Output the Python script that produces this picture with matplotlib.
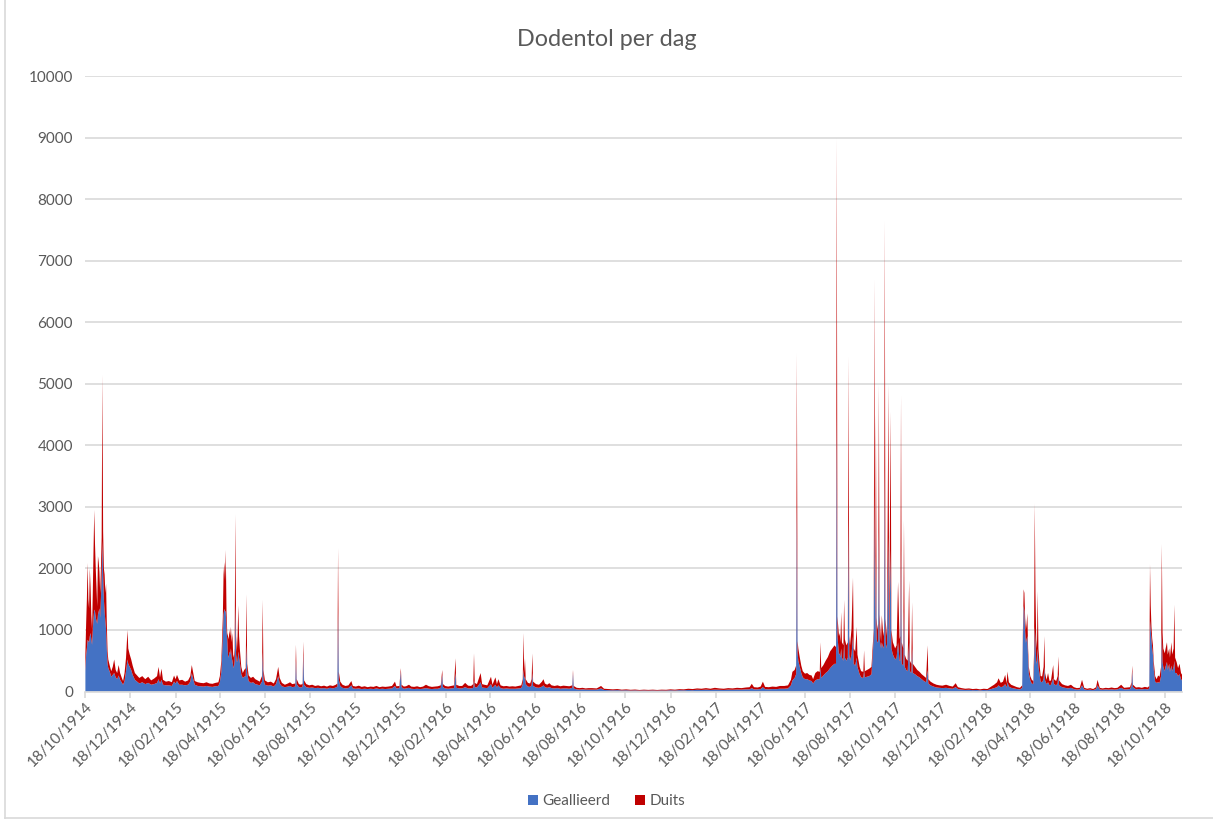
import matplotlib
matplotlib.use("Agg")
import matplotlib.pyplot as plt
import numpy as np
import pandas as pd
from matplotlib.patches import Patch
from matplotlib.lines import Line2D

# ---------------- data ----------------
datums = [
    # 1914
    "1914-10-18","1914-10-19","1914-10-20","1914-10-21","1914-10-22","1914-10-23","1914-10-24","1914-10-25","1914-10-26","1914-10-27","1914-10-28","1914-10-29","1914-10-30","1914-10-31",
    "1914-11-01","1914-11-02","1914-11-03","1914-11-04","1914-11-05","1914-11-06","1914-11-07","1914-11-08","1914-11-09","1914-11-10","1914-11-11","1914-11-12","1914-11-13","1914-11-14","1914-11-15","1914-11-16","1914-11-17","1914-11-18","1914-11-20","1914-11-22","1914-11-24","1914-11-26","1914-11-28","1914-11-30",
    "1914-12-02","1914-12-04","1914-12-06","1914-12-08","1914-12-10","1914-12-12","1914-12-14","1914-12-15","1914-12-17","1914-12-19","1914-12-21","1914-12-24","1914-12-27","1914-12-30",
    # 1915
    "1915-01-03","1915-01-07","1915-01-11","1915-01-15","1915-01-19","1915-01-23","1915-01-25","1915-01-27","1915-01-29","1915-01-31",
    "1915-02-04","1915-02-08","1915-02-12","1915-02-15","1915-02-17","1915-02-19","1915-02-22","1915-02-26",
    "1915-03-02","1915-03-06","1915-03-09","1915-03-11","1915-03-13","1915-03-15","1915-03-19","1915-03-23","1915-03-27","1915-03-31",
    "1915-04-04","1915-04-08","1915-04-12","1915-04-16","1915-04-18","1915-04-20","1915-04-22","1915-04-23","1915-04-24","1915-04-25","1915-04-26","1915-04-27","1915-04-28","1915-04-29","1915-04-30",
    "1915-05-01","1915-05-02","1915-05-03","1915-05-04","1915-05-05","1915-05-06","1915-05-07","1915-05-08","1915-05-09","1915-05-10","1915-05-11","1915-05-12","1915-05-13","1915-05-14","1915-05-15","1915-05-17","1915-05-19","1915-05-21","1915-05-23","1915-05-24","1915-05-25","1915-05-27","1915-05-30",
    "1915-06-02","1915-06-05","1915-06-08","1915-06-11","1915-06-14","1915-06-15","1915-06-16","1915-06-18","1915-06-22","1915-06-26","1915-06-30",
    "1915-07-03","1915-07-06","1915-07-08","1915-07-11","1915-07-15","1915-07-19","1915-07-22","1915-07-25","1915-07-29","1915-07-30","1915-07-31",
    "1915-08-03","1915-08-06","1915-08-08","1915-08-09","1915-08-10","1915-08-13","1915-08-17","1915-08-21","1915-08-25","1915-08-29",
    "1915-09-02","1915-09-06","1915-09-10","1915-09-14","1915-09-18","1915-09-22","1915-09-24","1915-09-25","1915-09-26","1915-09-28",
    "1915-10-01","1915-10-05","1915-10-09","1915-10-13","1915-10-15","1915-10-19","1915-10-23","1915-10-27","1915-10-31",
    "1915-11-04","1915-11-08","1915-11-12","1915-11-16","1915-11-20","1915-11-24","1915-11-28",
    "1915-12-02","1915-12-07","1915-12-11","1915-12-13","1915-12-17","1915-12-19","1915-12-20","1915-12-23","1915-12-26","1915-12-30",
    # 1916
    "1916-01-02","1916-01-06","1916-01-10","1916-01-14","1916-01-18","1916-01-22","1916-01-26","1916-01-30",
    "1916-02-03","1916-02-07","1916-02-11","1916-02-13","1916-02-14","1916-02-17","1916-02-21","1916-02-25","1916-02-29",
    "1916-03-02","1916-03-03","1916-03-07","1916-03-11","1916-03-15","1916-03-19","1916-03-23","1916-03-26","1916-03-27","1916-03-28","1916-03-31",
    "1916-04-05","1916-04-07","1916-04-10","1916-04-14","1916-04-19","1916-04-21","1916-04-25","1916-04-27","1916-04-29",
    "1916-05-02","1916-05-06","1916-05-10","1916-05-14","1916-05-18","1916-05-22","1916-05-26","1916-05-30",
    "1916-06-01","1916-06-02","1916-06-03","1916-06-04","1916-06-05","1916-06-08","1916-06-11","1916-06-13","1916-06-14","1916-06-15","1916-06-19","1916-06-23","1916-06-27","1916-06-29",
    "1916-07-01","1916-07-04","1916-07-07","1916-07-10","1916-07-14","1916-07-18","1916-07-22","1916-07-26","1916-07-30",
    "1916-08-03","1916-08-07","1916-08-08","1916-08-09","1916-08-13","1916-08-17","1916-08-21","1916-08-25","1916-08-29",
    "1916-09-03","1916-09-09","1916-09-15","1916-09-19","1916-09-25",
    "1916-10-01","1916-10-07","1916-10-13","1916-10-19","1916-10-25","1916-10-31",
    "1916-11-06","1916-11-12","1916-11-18","1916-11-24","1916-11-30",
    "1916-12-06","1916-12-12","1916-12-18","1916-12-24","1916-12-30",
    # 1917
    "1917-01-05","1917-01-11","1917-01-17","1917-01-23","1917-01-29",
    "1917-02-04","1917-02-10","1917-02-16","1917-02-22","1917-02-28",
    "1917-03-06","1917-03-12","1917-03-18","1917-03-24","1917-03-30",
    "1917-04-04","1917-04-07","1917-04-10","1917-04-15","1917-04-19","1917-04-22","1917-04-25","1917-04-30",
    "1917-05-05","1917-05-10","1917-05-15","1917-05-21","1917-05-26","1917-05-30",
    "1917-06-01","1917-06-04","1917-06-06","1917-06-07","1917-06-08","1917-06-09","1917-06-11","1917-06-13","1917-06-15","1917-06-18","1917-06-21","1917-06-24","1917-06-27","1917-06-29",
    "1917-07-02","1917-07-05","1917-07-08","1917-07-09","1917-07-10","1917-07-13","1917-07-16","1917-07-19","1917-07-22","1917-07-25","1917-07-28","1917-07-30","1917-07-31",
    "1917-08-01","1917-08-03","1917-08-04","1917-08-05","1917-08-06","1917-08-07","1917-08-09","1917-08-10","1917-08-11","1917-08-13","1917-08-15","1917-08-16","1917-08-17","1917-08-18","1917-08-20","1917-08-22","1917-08-23","1917-08-25","1917-08-27","1917-08-28","1917-08-31",
    "1917-09-02","1917-09-05","1917-09-06","1917-09-07","1917-09-10","1917-09-13","1917-09-16","1917-09-18","1917-09-19","1917-09-20","1917-09-21","1917-09-22","1917-09-23","1917-09-24","1917-09-25","1917-09-26","1917-09-27","1917-09-29","1917-09-30",
    "1917-10-02","1917-10-03","1917-10-04","1917-10-05","1917-10-07","1917-10-09","1917-10-10","1917-10-12","1917-10-13","1917-10-15","1917-10-18","1917-10-20","1917-10-22","1917-10-24","1917-10-25","1917-10-26","1917-10-27","1917-10-29","1917-10-30","1917-10-31",
    "1917-11-02","1917-11-04","1917-11-06","1917-11-07","1917-11-09","1917-11-10","1917-11-11","1917-11-14","1917-11-17","1917-11-20","1917-11-23","1917-11-26","1917-11-29",
    "1917-12-01","1917-12-02","1917-12-05","1917-12-09","1917-12-13","1917-12-17","1917-12-21","1917-12-26","1917-12-31",
    # 1918
    "1918-01-04","1918-01-08","1918-01-11","1918-01-16","1918-01-21","1918-01-26","1918-01-31",
    "1918-02-05","1918-02-10","1918-02-15","1918-02-20","1918-02-25",
    "1918-03-01","1918-03-05","1918-03-07","1918-03-10","1918-03-13","1918-03-16","1918-03-18","1918-03-19","1918-03-21","1918-03-24","1918-03-28",
    "1918-04-01","1918-04-05","1918-04-08","1918-04-09","1918-04-10","1918-04-11","1918-04-12","1918-04-13","1918-04-14","1918-04-15","1918-04-16","1918-04-17","1918-04-19","1918-04-21","1918-04-23","1918-04-24","1918-04-25","1918-04-26","1918-04-27","1918-04-28","1918-04-29","1918-04-30",
    "1918-05-01","1918-05-03","1918-05-05","1918-05-07","1918-05-08","1918-05-09","1918-05-11","1918-05-13","1918-05-15","1918-05-17","1918-05-20","1918-05-21","1918-05-24","1918-05-26","1918-05-27","1918-05-28",
    "1918-06-01","1918-06-05","1918-06-09","1918-06-13","1918-06-17","1918-06-21","1918-06-25","1918-06-28",
    "1918-07-01","1918-07-05","1918-07-09","1918-07-13","1918-07-17","1918-07-19","1918-07-22","1918-07-26","1918-07-30",
    "1918-08-03","1918-08-07","1918-08-11","1918-08-15","1918-08-20","1918-08-24","1918-08-28",
    "1918-09-01","1918-09-03","1918-09-04","1918-09-05","1918-09-09","1918-09-13","1918-09-17","1918-09-21","1918-09-25","1918-09-27","1918-09-28","1918-09-29","1918-09-30",
    "1918-10-01","1918-10-02","1918-10-03","1918-10-05","1918-10-07","1918-10-09","1918-10-11","1918-10-13","1918-10-14","1918-10-15","1918-10-16","1918-10-18","1918-10-19","1918-10-21","1918-10-22","1918-10-24","1918-10-25","1918-10-27","1918-10-28","1918-10-30","1918-10-31",
    "1918-11-01","1918-11-03","1918-11-05","1918-11-07","1918-11-09","1918-11-11",
]

# total height of the stack (Geallieerd + Duits) per date
totaal = [
    620,1100,1500,2090,1500,1350,2000,1700,1250,1000,1600,2300,2950,2400,
    2000,1700,1380,2200,2100,1950,1600,2000,2500,5150,2600,2000,1900,1600,1750,1100,650,520,420,330,400,520,350,300,
    430,300,230,170,300,550,1000,700,600,520,420,300,260,220,
    250,200,240,180,210,250,400,230,370,190,
    160,170,150,260,200,270,180,190,
    160,180,250,430,300,170,150,140,135,150,
    130,125,140,150,250,500,1200,1900,2100,1800,2300,1300,950,900,850,
    1000,900,1050,800,950,600,550,700,2880,900,650,900,1400,900,700,400,300,350,380,1580,450,260,220,
    240,200,180,160,250,1490,350,180,150,160,130,
    200,400,220,140,110,130,150,120,130,760,200,
    120,110,130,810,180,120,100,110,90,100,
    85,95,80,100,90,110,130,2330,320,160,
    110,90,100,170,90,80,95,75,85,
    70,80,75,90,70,80,75,
    80,90,160,85,90,380,110,80,85,110,
    80,75,85,70,80,110,85,75,
    80,85,100,350,120,90,80,90,100,
    540,110,90,90,140,95,90,120,620,140,120,
    300,120,110,100,240,110,230,120,200,
    100,85,90,80,85,80,90,100,
    200,950,300,540,200,140,130,200,620,160,120,110,160,200,
    130,110,135,100,90,100,85,95,90,
    85,100,350,90,60,55,60,50,55,
    55,50,90,45,40,
    35,40,30,35,28,32,
    25,30,26,30,25,
    30,28,35,30,38,
    35,45,40,50,45,
    55,45,60,50,45,
    55,50,60,55,65,
    70,125,70,65,80,160,75,70,
    80,75,90,90,100,190,
    320,350,420,5500,820,700,550,420,330,290,300,270,260,200,
    300,330,320,800,380,430,500,560,650,700,750,720,9000,
    1220,900,950,800,1290,800,750,1490,850,750,800,5450,900,750,1020,1850,700,650,1050,600,400,
    330,320,670,330,350,370,400,800,1020,6700,1000,4500,1200,1000,1100,5000,1250,800,1240,
    900,1000,7650,1180,900,5000,1000,4550,1000,800,700,750,1780,850,900,4810,800,700,2780,600,
    530,500,1800,500,450,1450,450,400,350,320,280,250,220,
    750,200,160,130,110,100,95,110,90,
    80,135,70,55,45,50,40,
    45,35,45,40,80,
    110,150,215,140,160,270,130,325,150,110,90,
    70,60,100,1000,1660,1600,1200,1000,1100,1270,700,400,250,190,170,600,3060,1600,850,700,1630,700,
    515,250,245,400,900,300,190,300,170,180,430,200,170,250,570,180,
    120,100,90,110,70,55,60,190,
    60,45,55,40,70,190,60,50,60,
    55,65,55,60,110,60,65,
    70,150,420,110,65,70,60,75,65,90,2070,1400,1050,
    860,750,500,250,200,260,240,400,2400,960,700,620,690,800,600,700,550,800,600,700,1410,
    550,480,380,450,300,260,
]

geallieerd = [
    330,600,700,840,820,800,900,950,850,760,1000,1200,1330,1300,
    1200,1150,1100,1250,1300,1350,1200,1500,1900,2450,1900,1500,1300,1150,1000,700,450,380,320,240,270,300,230,200,
    260,190,150,110,170,330,520,450,400,350,270,190,160,130,
    150,120,140,110,120,140,200,130,190,110,
    100,100,90,160,130,170,110,110,
    100,110,160,300,200,110,90,85,80,90,
    80,75,85,90,150,320,900,1250,1340,1300,1300,1000,850,600,550,
    650,600,700,550,500,420,380,500,1400,600,480,500,650,550,480,280,220,240,250,750,300,170,140,
    150,120,110,100,160,640,200,110,95,100,80,
    120,250,130,85,70,80,90,70,80,500,120,
    70,65,80,600,110,70,60,65,55,60,
    50,55,45,60,50,65,80,1300,190,90,
    60,50,55,100,50,45,50,40,45,
    40,45,40,50,40,45,40,
    45,50,90,50,55,320,70,45,50,60,
    45,40,45,40,45,55,45,40,
    45,45,60,270,70,50,45,50,55,
    300,60,50,50,70,50,50,60,180,70,65,
    150,65,60,55,120,60,110,65,100,
    55,45,50,45,45,45,50,55,
    120,360,200,250,120,80,75,100,300,90,65,60,80,100,
    70,60,70,55,50,55,45,50,50,
    45,60,300,50,35,30,35,30,30,
    30,30,50,25,22,
    20,22,18,20,16,18,
    15,17,15,17,15,
    17,16,20,17,22,
    20,25,22,28,25,
    30,25,30,28,25,
    30,28,32,30,35,
    35,55,35,35,40,70,38,35,
    40,38,45,45,50,100,
    180,220,280,3000,620,500,400,300,230,200,200,180,170,130,
    180,200,200,400,220,260,300,330,380,420,450,450,4500,
    900,600,620,550,700,550,500,800,550,500,550,2800,600,500,600,900,450,420,550,400,280,
    230,220,350,230,240,250,280,650,910,3200,800,2200,850,800,800,2600,850,700,800,
    700,750,3600,800,700,2500,750,2300,700,600,520,550,800,500,500,2300,450,420,1300,400,
    350,330,800,330,300,700,300,280,250,230,200,170,150,
    350,130,100,80,65,60,55,60,50,
    45,70,40,30,25,28,22,
    25,20,25,22,40,
    55,70,100,70,80,120,65,150,80,60,50,
    40,35,60,850,1390,1300,1000,790,850,900,550,300,180,130,120,400,1050,800,500,450,700,400,
    320,160,150,200,400,180,120,150,100,110,220,120,100,130,280,100,
    70,60,50,60,40,30,35,100,
    35,25,30,22,40,100,35,28,35,
    30,35,30,35,60,35,35,
    40,90,330,70,35,40,35,40,35,50,1150,1000,850,
    700,600,370,160,140,150,140,250,960,480,400,330,400,480,350,450,320,420,330,400,500,
    300,300,250,280,200,170,
]

tick_labels = [
    "18/10/1914","18/12/1914","18/02/1915","18/04/1915","18/06/1915","18/08/1915",
    "18/10/1915","18/12/1915","18/02/1916","18/04/1916","18/06/1916","18/08/1916",
    "18/10/1916","18/12/1916","18/02/1917","18/04/1917","18/06/1917","18/08/1917",
    "18/10/1917","18/12/1917","18/02/1918","18/04/1918","18/06/1918","18/08/1918",
    "18/10/1918",
]
y_ticks = [0, 1000, 2000, 3000, 4000, 5000, 6000, 7000, 8000, 9000, 10000]
series_names = ["Geallieerd", "Duits"]
series_colors = ["#4472C4", "#C00000"]

assert len(datums) == len(totaal) == len(geallieerd), (len(datums), len(totaal), len(geallieerd))

# ---------------- drawing ----------------
plt.rcParams["font.family"] = ["Lato", "DejaVu Sans"]
TXT = "#595959"
GRID = "#D9D9D9"

x = pd.to_datetime(datums)
allied = np.array(geallieerd, dtype=float)
duits = np.array(totaal, dtype=float) - allied

W, H = 1213, 823
fig = plt.figure(figsize=(W / 100, H / 100), dpi=100)
ax = fig.add_axes([85.4 / W, 1 - 691.5 / H, (1182.5 - 85.4) / W, (691.5 - 76) / H])

ax.stackplot(x, allied, duits, colors=series_colors, labels=series_names, linewidth=0)

ax.set_xlim(pd.Timestamp("1914-10-18"), pd.Timestamp("1918-11-11"))
ax.set_ylim(0, 10000)
ax.set_yticks(y_ticks)
ax.set_yticklabels([str(v) for v in y_ticks])
ax.yaxis.grid(True, color=GRID, linewidth=1.2)
ax.set_axisbelow(True)

ticks = pd.to_datetime(tick_labels, format="%d/%m/%Y")
ax.set_xticks(ticks)
ax.set_xticklabels(tick_labels, rotation=45, ha="right", va="top", rotation_mode="anchor")

for s in ("top", "right", "left"):
    ax.spines[s].set_visible(False)
ax.spines["bottom"].set_color(GRID)
ax.spines["bottom"].set_linewidth(1.2)

ax.tick_params(axis="y", length=0, labelsize=11, labelcolor=TXT, pad=9)
ax.tick_params(axis="x", length=4, width=1.2, color=GRID, direction="out",
               labelsize=11, labelcolor=TXT, pad=2)

fig.text(0.5, 1 - 40 / H, "Dodentol per dag", ha="center", va="center",
         fontsize=16.8, color=TXT)

handles = [Patch(facecolor=c, edgecolor="none") for c in series_colors]
fig.legend(handles, series_names, loc="center", bbox_to_anchor=(0.5, 1 - 801 / H),
           ncol=2, frameon=False, fontsize=11, labelcolor=TXT,
           handlelength=0.65, handleheight=0.65, handletextpad=0.3, columnspacing=1.6)

# chart-area border (left and bottom edges visible in the reference)
fig.add_artist(Line2D([5 / W, 5 / W], [1 - 818 / H, 1.0], transform=fig.transFigure,
                      color=GRID, linewidth=1.2))
fig.add_artist(Line2D([5 / W, 1.0], [1 - 818 / H, 1 - 818 / H], transform=fig.transFigure,
                      color=GRID, linewidth=1.2))

fig.savefig("out.png", dpi=100)
